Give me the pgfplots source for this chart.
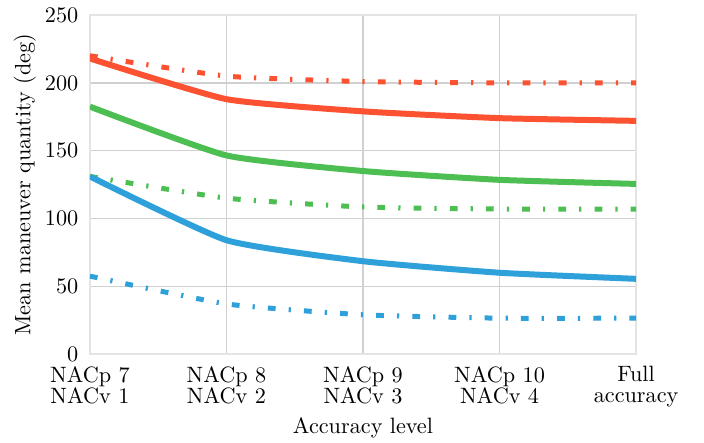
\documentclass[border=0pt]{standalone}
\usepackage{pgfplots}
\pgfplotsset{compat=1.18}
\definecolor{cred}{RGB}{252,82,50}
\definecolor{cgreen}{RGB}{76,190,82}
\definecolor{cblue}{RGB}{46,160,218}
\definecolor{cgrid}{RGB}{208,208,208}
\definecolor{cframe}{RGB}{228,228,228}
\begin{document}
\begin{tikzpicture}
\begin{axis}[
  width=246pt, height=152.7pt, scale only axis,
  xmin=0, xmax=4, ymin=0, ymax=250,
  xtick={0,1,2,3,4},
  xticklabels={{NACp 7\\NACv 1},{NACp 8\\NACv 2},{NACp 9\\NACv 3},{NACp 10\\NACv 4},{Full\\accuracy}},
  xticklabel style={align=center, font=\fontsize{10}{9.5}\selectfont, yshift=-2pt},
  yticklabel style={xshift=-1.7pt},
  ytick={0,50,100,150,200,250},
  major tick length=0pt,
  grid=major,
  major grid style={cgrid, line width=0.6pt},
  axis line style={cframe, line width=0.9pt},
  xlabel={Accuracy level},
  xlabel style={at={(axis description cs:0.5,0)}, anchor=center, yshift=-33.3pt},
  ylabel={Mean maneuver quantity (deg)},
  ylabel style={at={(axis description cs:-0.119,0.5)}, anchor=center},
  every axis plot/.append style={smooth, tension=0.3, no markers},
]
\addplot[cred, line width=2.7pt] coordinates {(0,218) (1,188) (2,179) (3,174) (4,172)};
\addplot[cred, line width=2.25pt, dash pattern=on 3.5pt off 5.9pt on 1pt off 5.9pt] coordinates {(0,220) (1,205) (2,201) (3,200) (4,200)};
\addplot[cgreen, line width=2.7pt] coordinates {(0,182.5) (1,146.5) (2,135) (3,128.5) (4,125.5)};
\addplot[cgreen, line width=2.25pt, dash pattern=on 3.5pt off 5.9pt on 1pt off 5.9pt] coordinates {(0,131) (1,115) (2,108.5) (3,107) (4,107)};
\addplot[cblue, line width=2.7pt] coordinates {(0,131) (1,84) (2,68.5) (3,60) (4,55.5)};
\addplot[cblue, line width=2.25pt, dash pattern=on 3.5pt off 5.9pt on 1pt off 5.9pt] coordinates {(0,57.5) (1,37) (2,29) (3,26.5) (4,26.5)};
\coordinate (bl) at (rel axis cs:0,0);
\coordinate (tr) at (rel axis cs:1,1);
\end{axis}
\pgfresetboundingbox
\path ([shift={(-40.5pt,-40pt)}]bl) rectangle ([shift={(30.6pt,6.8pt)}]tr);
\end{tikzpicture}
\end{document}
